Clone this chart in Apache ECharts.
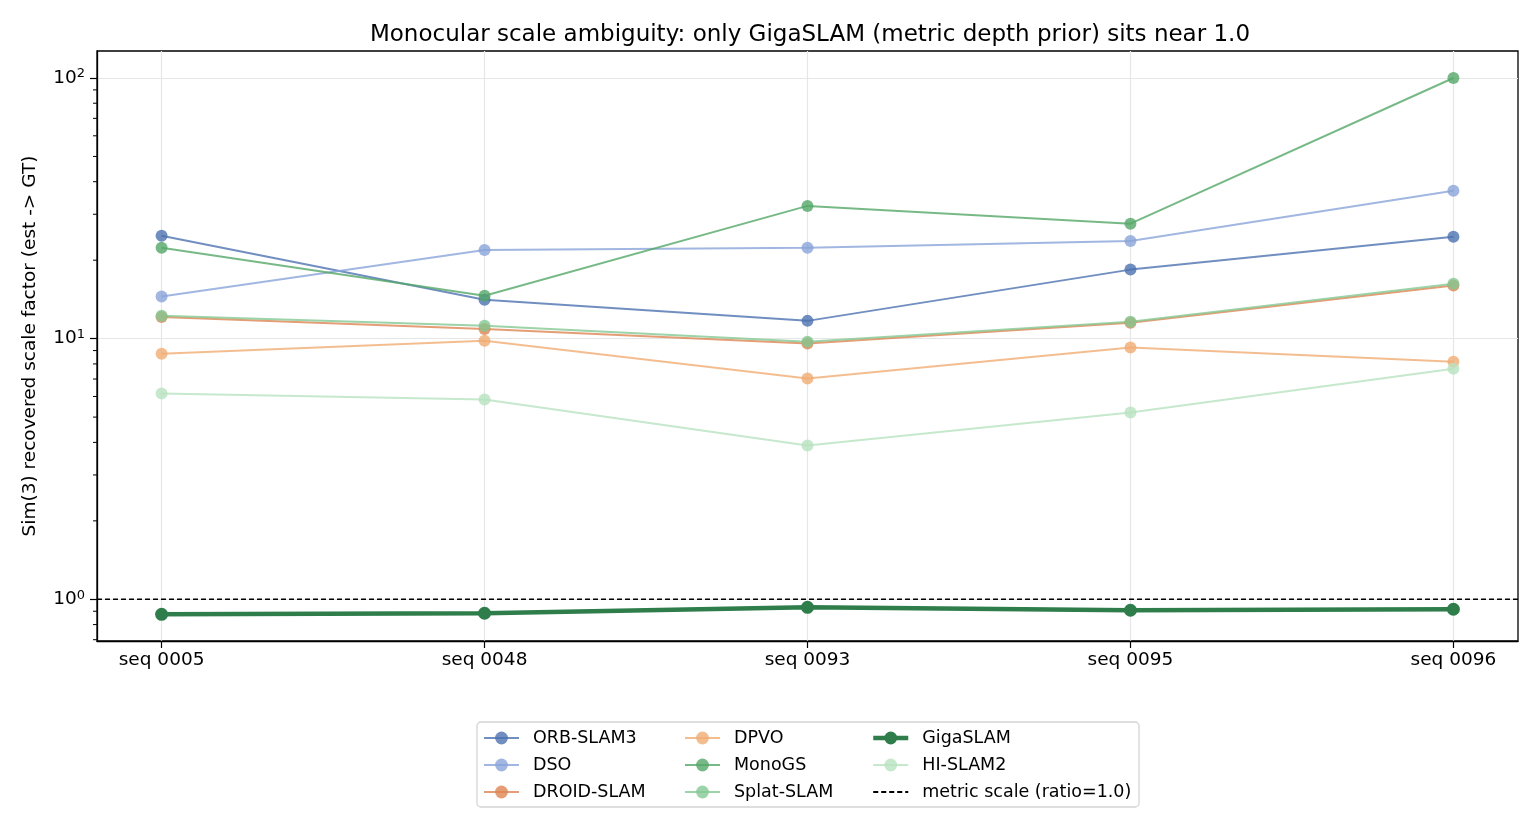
<!DOCTYPE html>
<html>
<head>
<meta charset="utf-8">
<script src="https://cdn.jsdelivr.net/npm/echarts@6/dist/echarts.min.js"></script>
<style>
  html, body { margin: 0; padding: 0; background: #fff; }
  #chart { width: 1540px; height: 840px; }
</style>
</head>
<body>
<div id="chart"></div>
<script>
// sequences on the x axis
const categories = ["seq 0005", "seq 0048", "seq 0093", "seq 0095", "seq 0096"];

// Sim(3) scale factor per method
const orbSlam3  = [24.8, 14.1, 11.7, 18.4, 24.6];
const dso       = [14.5, 21.9, 22.3, 23.7, 36.9];
const droidSlam = [12.1, 10.9, 9.57, 11.5, 16.0];
const dpvo      = [8.76, 9.82, 7.03, 9.24, 8.16];
const monoGS    = [22.3, 14.6, 32.3, 27.6, 100];
const splatSlam = [12.25, 11.2, 9.74, 11.6, 16.25];
const hiSlam2   = [6.16, 5.84, 3.89, 5.21, 7.67];
const gigaSlam  = [0.876, 0.884, 0.932, 0.908, 0.916];

const metricRatio = 1.0;

// axis ticks
const yMajorTicks = [1, 10, 100];
const yMinorTicks = [0.7, 0.8, 0.9, 2, 3, 4, 5, 6, 7, 8, 9, 20, 30, 40, 50, 60, 70, 80, 90];
const xTicks = [0, 1, 2, 3, 4];
const xMin = -0.2, xMax = 4.2;
const yMin = 0.692, yMax = 126.9;

const FONT = "DejaVu Sans";

let chart = echarts.init(document.getElementById("chart"));

function pts(arr) {
  return arr.map((v, i) => [i, v]);
}

function methodSeries(name, arr, color, extra) {
  let s = {
    name: name,
    type: "line",
    data: pts(arr),
    symbol: "circle",
    symbolSize: 12,
    lineStyle: { color: color, width: 2, opacity: 0.8 },
    itemStyle: { color: color, opacity: 0.8 },
    emphasis: { disabled: true },
    z: 3,
  };
  return Object.assign(s, extra || {});
}

// one legend column
function legendCol(left, names) {
  return {
    orient: "vertical", left: left, top: 729, padding: 0,
    itemWidth: 35, itemHeight: 16, itemGap: 9,
    textStyle: { fontFamily: FONT, fontSize: 17.5, color: "#000", padding: [0, 0, 0, 9] },
    data: names,
  };
}

let option = {
  animation: false,
  textStyle: { fontFamily: FONT },
  title: {
    text: "Monocular scale ambiguity: only GigaSLAM (metric depth prior) sits near 1.0",
    left: 805,
    top: 19,
    textAlign: "center",
    textStyle: { fontFamily: FONT, fontSize: 23, fontWeight: "normal", color: "#000" },
  },
  grid: { left: 97, right: 22, top: 51, bottom: 199, show: true, borderColor: "#000", borderWidth: 1.3 },
  xAxis: {
    type: "value",
    min: xMin,
    max: xMax,
    axisLine: { onZero: false, lineStyle: { color: "#000", width: 1.3 } },
    axisTick: { show: true, customValues: xTicks, length: 7, lineStyle: { color: "#000", width: 1.2 } },
    axisLabel: {
      customValues: xTicks,
      formatter: (v) => categories[Math.round(v)] || "",
      fontFamily: FONT, fontSize: 18.5, color: "#000", margin: 10,
    },
    splitLine: { show: true, lineStyle: { color: "#e6e6e6", width: 1.2 } },
  },
  yAxis: {
    type: "log",
    logBase: 10,
    min: yMin,
    max: yMax,
    name: "Sim(3) recovered scale factor (est -> GT)",
    nameLocation: "middle",
    nameGap: 57,
    nameRotate: 90,
    nameTextStyle: { fontFamily: FONT, fontSize: 18.5, color: "#000" },
    axisLine: { show: true, onZero: false, lineStyle: { color: "#000", width: 1.3 } },
    axisTick: { show: true, customValues: yMajorTicks, length: 7, lineStyle: { color: "#000", width: 1.2 } },
    axisLabel: {
      customValues: yMajorTicks,
      margin: 12,
      formatter: (v) => "{b|10}{s|" + Math.round(Math.log10(v)) + "}",
      rich: {
        b: { fontFamily: FONT, fontSize: 18.5, color: "#000" },
        s: { fontFamily: FONT, fontSize: 13, color: "#000", verticalAlign: "top", padding: [0, 0, 8, 0] },
      },
    },
    splitLine: { show: true, lineStyle: { color: "#e6e6e6", width: 1.2 } },
  },
  legend: [
    legendCol(483, ["ORB-SLAM3", "DSO", "DROID-SLAM"]),
    legendCol(684, ["DPVO", "MonoGS", "Splat-SLAM"]),
    legendCol(871, [
      { name: "GigaSLAM", lineStyle: { width: 4.5 } },
      "HI-SLAM2",
      { name: "metric scale (ratio=1.0)", itemStyle: { opacity: 0 } },
    ]),
  ],
  graphic: [
    {
      type: "rect",
      shape: { x: 477, y: 722, width: 662, height: 85, r: 4 },
      style: { fill: "rgba(255,255,255,0.8)", stroke: "#d4d4d4", lineWidth: 1.3 },
      z: -1,
      silent: true,
    },
  ],
  series: [
    methodSeries("ORB-SLAM3", orbSlam3, "#4c72b0"),
    methodSeries("DSO", dso, "#8aa4d8"),
    methodSeries("DROID-SLAM", droidSlam, "#dd8452"),
    methodSeries("DPVO", dpvo, "#f0ac74"),
    methodSeries("MonoGS", monoGS, "#55a868"),
    methodSeries("Splat-SLAM", splatSlam, "#84c892"),
    methodSeries("HI-SLAM2", hiSlam2, "#b8e2bf"),
    {
      name: "metric scale (ratio=1.0)",
      type: "line",
      data: [[xMin, metricRatio], [xMax, metricRatio]],
      symbol: "none",
      lineStyle: { color: "#000", width: 1.5, type: [5, 3] },
      itemStyle: { color: "#000" },
      emphasis: { disabled: true },
      z: 4,
    },
    methodSeries("GigaSLAM", gigaSlam, "#2e7d4a", {
      lineStyle: { color: "#2e7d4a", width: 4.5, opacity: 1 },
      itemStyle: { color: "#2e7d4a", opacity: 1 },
      symbolSize: 13,
      z: 5,
    }),
    {
      // minor log ticks on the y axis
      type: "custom",
      silent: true,
      clip: false,
      data: yMinorTicks.map((v) => [xMin, v]),
      renderItem: function (params, api) {
        let p = api.coord([api.value(0), api.value(1)]);
        return {
          type: "line",
          shape: { x1: p[0] - 4, y1: p[1], x2: p[0], y2: p[1] },
          style: { stroke: "#000", lineWidth: 1 },
        };
      },
      z: 6,
    },
  ],
};

chart.setOption(option);
</script>
</body>
</html>
